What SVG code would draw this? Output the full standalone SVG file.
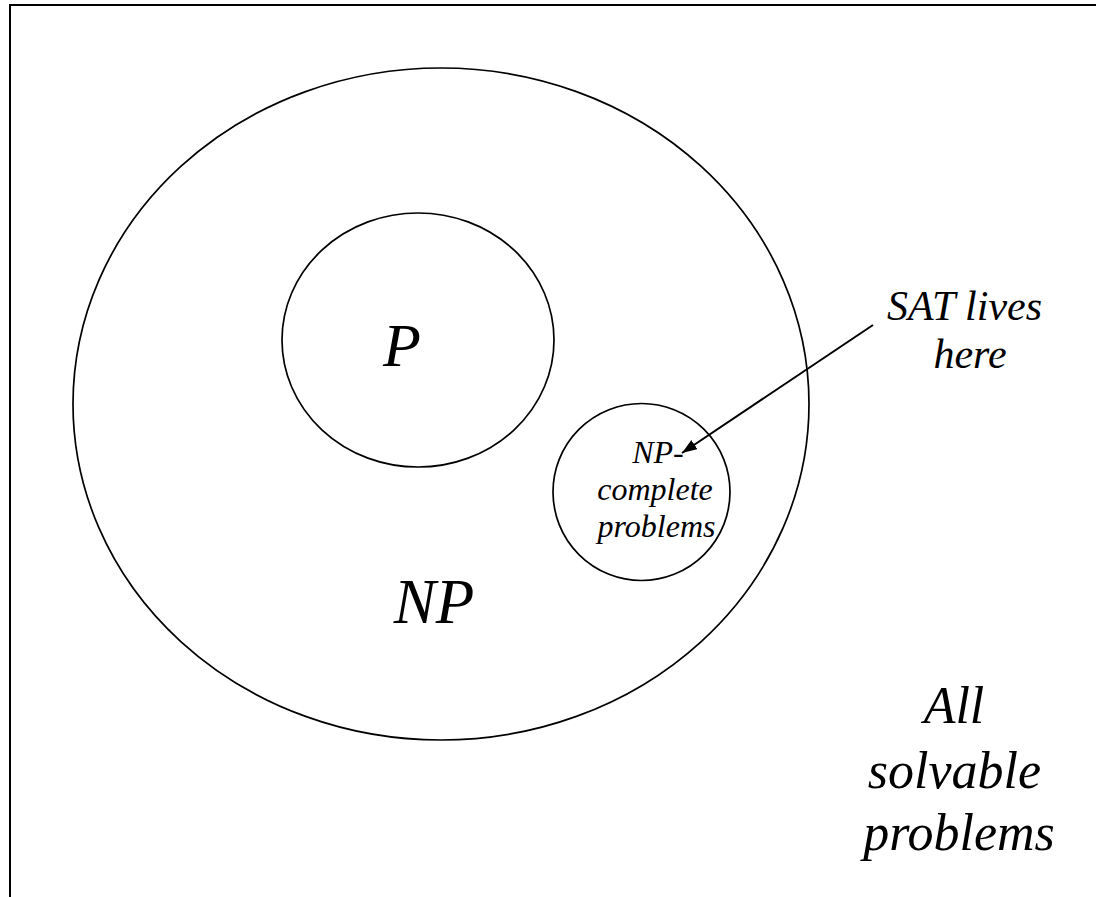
<svg xmlns="http://www.w3.org/2000/svg" width="1096" height="897" viewBox="0 0 1096 897">
<defs>
<style>
.shape{fill:none;stroke:#000;stroke-width:1.7}
.t{font-family:"Liberation Serif","Times New Roman",serif;font-style:italic;fill:#000;text-anchor:middle}
</style>
<marker id="ah" markerUnits="userSpaceOnUse" markerWidth="16" markerHeight="12" refX="15" refY="5.5" orient="auto">
<path d="M0,0 L15,5.5 L0,11 z" fill="#000"/>
</marker>
</defs>
<rect x="0" y="0" width="1096" height="897" fill="#fff"/>
<g id="frame">
<rect x="10" y="5" width="1200" height="1000" fill="none" stroke="#000" stroke-width="2"/>
<text class="t" x="954" y="723" font-size="52">All</text>
<text class="t" x="954.5" y="788" font-size="52">solvable</text>
<text class="t" x="959" y="850" font-size="52">problems</text>
</g>
<g id="np">
<ellipse class="shape" cx="441" cy="404" rx="368" ry="336"/>
<text class="t" x="434" y="623" font-size="63">NP</text>
</g>
<g id="p">
<ellipse class="shape" cx="418" cy="340" rx="136" ry="127"/>
<text class="t" x="402" y="366" font-size="62">P</text>
</g>
<g id="npc">
<circle class="shape" cx="641.5" cy="492" r="88.5"/>
<text class="t" x="658" y="463" font-size="32">NP-</text>
<text class="t" x="655" y="500" font-size="32">complete</text>
<text class="t" x="656.5" y="537" font-size="32">problems</text>
</g>
<g id="sat">
<text class="t" x="964.5" y="320" font-size="42">SAT lives</text>
<text class="t" x="970" y="368" font-size="42">here</text>
</g>
<g id="connectors">
<line x1="873" y1="325" x2="682" y2="453" stroke="#000" stroke-width="2" marker-end="url(#ah)"/>
</g>
</svg>
